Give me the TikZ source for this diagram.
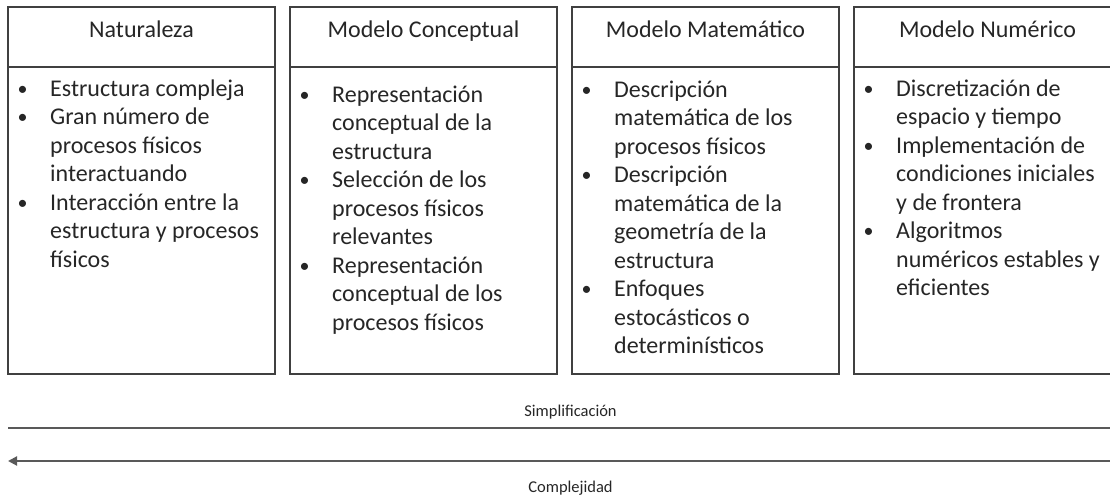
\documentclass[tikz,border=0pt]{standalone}
\usepackage{fontspec}
\setmainfont{Carlito}
\usepackage{tikz}
\usetikzlibrary{positioning}
\usetikzlibrary{arrows.meta}
\usetikzlibrary{calc}
\colorlet{marco}{black!75}
\colorlet{texto}{black!85}
\tikzset{
node distance = 0pt and 15pt,
   head/.style = {%
    shape=rectangle,
    draw=marco,
    line width=1.3pt,
    outer sep=0pt,
    minimum width=267pt,
    minimum height=60pt,
    text height=12pt, text depth=12pt,
    text=texto,
    font=\fontsize{24}{28.5}\selectfont},
   body/.style = {%
    shape=rectangle,
    draw=marco,
    line width=1.3pt,
    outer sep=0pt,
    minimum width=267pt,
    minimum height=307pt},
  lista/.style = {%
    inner sep=0pt,
    anchor=north west,
    align=left,
    text=texto,
    font=\fontsize{24}{28.5}\selectfont},
  linea/.style = {%
    draw=black!65,
    line width=2pt},
 arrow/.style = {%
    linea,
    {Triangle[length=9pt,width=9pt]}-},
   nota/.style = {%
    anchor=base,
    text=texto,
    font=\fontsize{16.5}{18}\selectfont},
    }
% vineta con su sangria; el rule fija la altura de la primera linea
\newcommand{\bul}{\rule{0pt}{20pt}\makebox[32pt][l]{%
    \hspace{-0.5pt}\raisebox{1.2pt}{\fontsize{20}{20}\selectfont\textbullet}}}
\newcommand{\sig}{\hspace*{32pt}}

\begin{document}
\begin{tikzpicture}[x=1pt,y=1pt]
    \useasboundingbox (0,0) rectangle (1110,-498);
    % titulos
    \node[head, anchor=north west] (nat) at (8,-7) {Naturaleza};
    \node[head, right=of nat] (con) {Modelo Conceptual};
    \node[head, right=of con] (mat) {Modelo Matemático};
    \node[head, right=of mat] (num) {Modelo Numérico};
    % cajas
    \foreach \n in {nat,con,mat,num}
        \node[body, below=of \n] (\n-b) {};
    % listas
    \node[lista] (nat-l) at ($(nat-b.north west)+(10,-9)$) {%
        \bul Estructura compleja\\
        \bul Gran número de\\ \sig procesos físicos\\ \sig interactuando\\
        \bul Interacción entre la\\ \sig estructura y procesos\\ \sig físicos};
    \node[lista] (con-l) at ($(con-b.north west)+(10,-15)$) {%
        \bul Representación\\ \sig conceptual de la\\ \sig estructura\\
        \bul Selección de los\\ \sig procesos físicos\\ \sig relevantes\\
        \bul Representación\\ \sig conceptual de los\\ \sig procesos físicos};
    \node[lista] (mat-l) at ($(mat-b.north west)+(10,-10)$) {%
        \bul Descripción\\ \sig matemática de los\\ \sig procesos físicos\\
        \bul Descripción\\ \sig matemática de la\\ \sig geometría de la\\ \sig estructura\\
        \bul Enfoques\\ \sig estocásticos o\\ \sig determinísticos};
    \node[lista] (num-l) at ($(num-b.north west)+(10,-9)$) {%
        \bul Discretización de\\ \sig espacio y tiempo\\
        \bul Implementación de\\ \sig condiciones iniciales\\ \sig y de frontera\\
        \bul Algoritmos\\ \sig numéricos estables y\\ \sig eficientes};
    % simplificacion / complejidad
    \coordinate (s0) at ($(nat-b.south west)+(0,-54)$);
    \coordinate (s1) at ($(num-b.south east)+(12,-54)$);
    \coordinate (c0) at ($(nat-b.south west)+(0,-87)$);
    \coordinate (c1) at ($(num-b.south east)+(12,-87)$);
    \draw[linea] (s0) -- (s1) node[midway, nota, yshift=12pt] (simp) {Simplificación};
    \draw[arrow] (c0) -- (c1) node[midway, nota, yshift=-31pt] (comp) {Complejidad};
\end{tikzpicture}
\end{document}
